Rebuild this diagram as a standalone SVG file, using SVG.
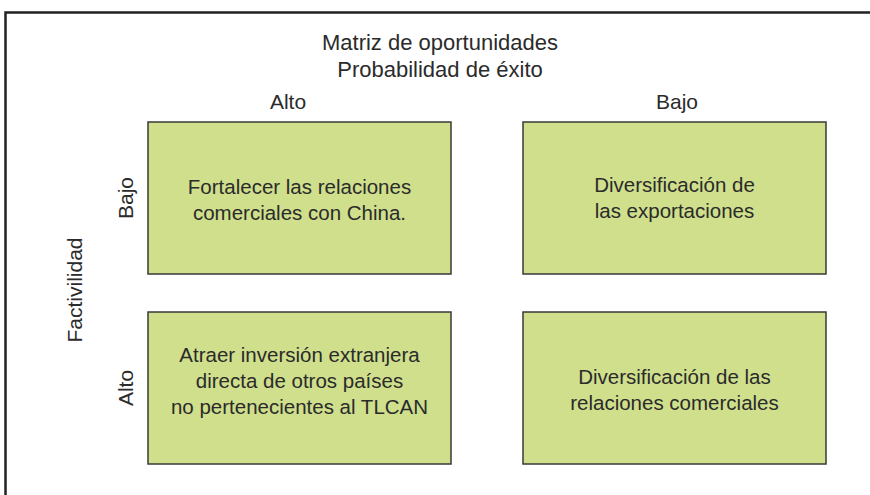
<svg xmlns="http://www.w3.org/2000/svg" width="870" height="495" viewBox="0 0 870 495">
<style>
text{font-family:"Liberation Sans",Arial,sans-serif;fill:#2b2b2b;font-size:20.5px;text-anchor:middle}
.t{font-size:22px}
.ax{font-size:21px}
.box{fill:#cfdf8b;stroke:#3a3a3a;stroke-width:1.5}
</style>
<rect width="870" height="495" fill="#fff"/>
<path d="M5.5 495 V12.5 H870" fill="none" stroke="#222" stroke-width="2.5"/>
<g id="title">
<text class="t" x="440" y="50">Matriz de oportunidades</text>
<text class="t" x="440" y="77">Probabilidad de éxito</text>
</g>
<g id="axis-labels">
<text class="ax" x="288" y="109">Alto</text>
<text class="ax" x="677" y="109">Bajo</text>
<text class="ax" transform="translate(133,198) rotate(-90)">Bajo</text>
<text class="ax" transform="translate(133,388) rotate(-90)">Alto</text>
<text class="ax" transform="translate(82,290) rotate(-90)">Factivilidad</text>
</g>
<g id="n1">
<rect class="box" x="148" y="122" width="303" height="152"/>
<text x="299.5" y="194">Fortalecer las relaciones</text>
<text x="299.5" y="220">comerciales con China.</text>
</g>
<g id="n2">
<rect class="box" x="523" y="122" width="303" height="152"/>
<text x="674.5" y="192">Diversificación de</text>
<text x="674.5" y="218">las exportaciones</text>
</g>
<g id="n3">
<rect class="box" x="148" y="312" width="303" height="152"/>
<text x="299.5" y="362">Atraer inversión extranjera</text>
<text x="299.5" y="388">directa de otros países</text>
<text x="299.5" y="414">no pertenecientes al TLCAN</text>
</g>
<g id="n4">
<rect class="box" x="523" y="312" width="303" height="152"/>
<text x="674.5" y="384">Diversificación de las</text>
<text x="674.5" y="410">relaciones comerciales</text>
</g>
<g id="connectors"></g>
</svg>
